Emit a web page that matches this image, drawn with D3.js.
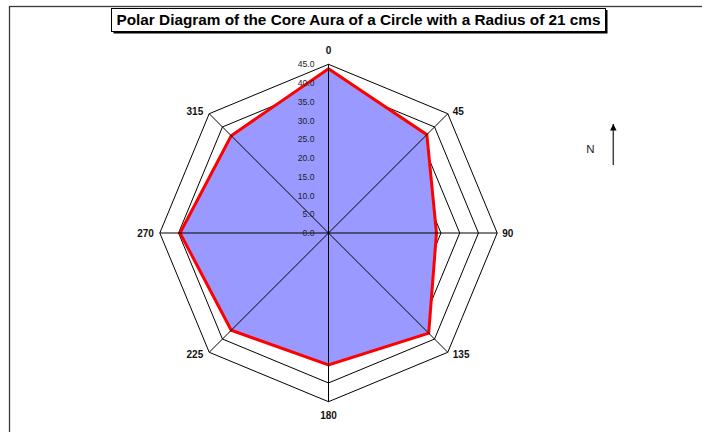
<!DOCTYPE html>
<html>
<head>
<meta charset="utf-8">
<script src="https://cdn.jsdelivr.net/npm/d3@7"></script>
<style>
  body { margin: 0; background: #fff; }
  text { font-family: "Liberation Sans", Arial, sans-serif; }
</style>
</head>
<body>
<div id="chart"></div>
<script>
// Data
var directions = ["0", "45", "90", "135", "180", "225", "270", "315"];
var auraValues = [43.8, 37.1, 28.8, 37.8, 35.2, 36.7, 39.6, 36.7];
var ringTicks = [0, 5, 10, 15, 20, 25, 30, 35, 40, 45];
var chartTitle = "Polar Diagram of the Core Aura of a Circle with a Radius of 21 cms";

var svgWidth = 702;
var svgHeight = 432;
var cx = 328.5, cy = 233;
var outerR = 168.7;

var svg = d3.select("#chart")
    .append("svg")
    .attr("width", svgWidth)
    .attr("height", svgHeight);

// chart area frame (runs off the window on right and bottom)
svg.append("rect")
    .attr("x", 9.5).attr("y", 6.5)
    .attr("width", 900).attr("height", 700)
    .attr("fill", "none")
    .attr("stroke", "#3a3a3a")
    .attr("stroke-width", 1.3);

// scales
var rScale = d3.scaleLinear()
    .domain([0, 45])
    .range([0, outerR]);

var angleScale = d3.scalePoint()
    .domain(directions)
    .range([0, 2 * Math.PI * (directions.length - 1) / directions.length]);

var g = svg.append("g")
    .attr("transform", `translate(${cx}, ${cy})`);

function point(dir, v) {
  var a = angleScale(dir);
  return [Math.sin(a) * rScale(v), -Math.cos(a) * rScale(v)];
}

// gridline octagons
var ringLine = d3.lineRadial()
    .angle(d => angleScale(d))
    .curve(d3.curveLinearClosed);

g.selectAll(".ring")
  .data(ringTicks.filter(t => t > 0))
  .enter()
  .append("path")
  .attr("class", "ring")
  .attr("d", t => ringLine.radius(() => rScale(t))(directions))
  .attr("fill", "none")
  .attr("stroke", "#000")
  .attr("stroke-width", 1);

// filled series
var seriesLine = d3.lineRadial()
    .angle((d, i) => angleScale(directions[i]))
    .radius(d => rScale(d))
    .curve(d3.curveLinearClosed);

g.append("path")
  .attr("d", seriesLine(auraValues))
  .attr("fill", "#9999ff")
  .attr("stroke", "#ff0000")
  .attr("stroke-width", 3)
  .attr("stroke-linejoin", "miter");

// spokes
g.selectAll(".spoke")
  .data(directions)
  .enter()
  .append("line")
  .attr("class", "spoke")
  .attr("x1", 0).attr("y1", 0)
  .attr("x2", d => point(d, 45)[0])
  .attr("y2", d => point(d, 45)[1])
  .attr("stroke", "#000")
  .attr("stroke-width", 1);

// value axis labels
g.selectAll(".tick")
  .data(ringTicks)
  .enter()
  .append("text")
  .attr("class", "tick")
  .attr("x", -14)
  .attr("y", t => -rScale(t))
  .attr("dy", "0.35em")
  .attr("text-anchor", "end")
  .attr("font-size", "8.6px")
  .attr("fill", "#222")
  .text(t => t.toFixed(1));

// direction labels
g.selectAll(".dir")
  .data(directions)
  .enter()
  .append("text")
  .attr("class", "dir")
  .attr("x", d => {
    var p = point(d, 45), s = Math.sin(angleScale(d));
    return p[0] + (Math.abs(s) < 0.01 ? 0 : (s > 0 ? 5 : -6));
  })
  .attr("y", d => {
    var p = point(d, 45), c = Math.cos(angleScale(d));
    var k = Math.abs(Math.abs(c) - 1) < 0.01 ? 14 : (Math.abs(c) < 0.01 ? 0 : 2.5);
    return p[1] - Math.sign(c) * k;
  })
  .attr("dy", "0.36em")
  .attr("text-anchor", d => {
    var s = Math.sin(angleScale(d));
    return Math.abs(s) < 0.01 ? "middle" : (s > 0 ? "start" : "end");
  })
  .attr("font-size", "10px")
  .attr("font-weight", "bold")
  .attr("fill", "#111")
  .text(d => d);

// title with shadowed box
var titleG = svg.append("g");
titleG.append("rect")
  .attr("x", 113.5).attr("y", 10)
  .attr("width", 494).attr("height", 23.5)
  .attr("fill", "#000");
titleG.append("rect")
  .attr("x", 111.5).attr("y", 8.5)
  .attr("width", 494).attr("height", 23)
  .attr("fill", "#fff")
  .attr("stroke", "#000")
  .attr("stroke-width", 1);
titleG.append("text")
  .attr("x", 358.5).attr("y", 20)
  .attr("dy", "0.36em")
  .attr("text-anchor", "middle")
  .attr("font-size", "15px")
  .attr("font-weight", "bold")
  .attr("textLength", 484)
  .attr("lengthAdjust", "spacingAndGlyphs")
  .text(chartTitle);

// north arrow
svg.append("defs").append("marker")
  .attr("id", "arrow")
  .attr("viewBox", "0 0 10 10")
  .attr("refX", 10).attr("refY", 5)
  .attr("markerWidth", 7.5).attr("markerHeight", 6.5)
  .attr("markerUnits", "userSpaceOnUse")
  .attr("orient", "auto")
  .append("path")
  .attr("d", "M0,0 L10,5 L0,10 Z")
  .attr("fill", "#000");

svg.append("line")
  .attr("x1", 613.3).attr("y1", 165)
  .attr("x2", 613.3).attr("y2", 124)
  .attr("stroke", "#444")
  .attr("stroke-width", 1.5)
  .attr("marker-end", "url(#arrow)");

svg.append("text")
  .attr("x", 590.5).attr("y", 149)
  .attr("dy", "0.36em")
  .attr("text-anchor", "middle")
  .attr("font-size", "11.5px")
  .attr("fill", "#222")
  .text("N");
</script>
</body>
</html>
